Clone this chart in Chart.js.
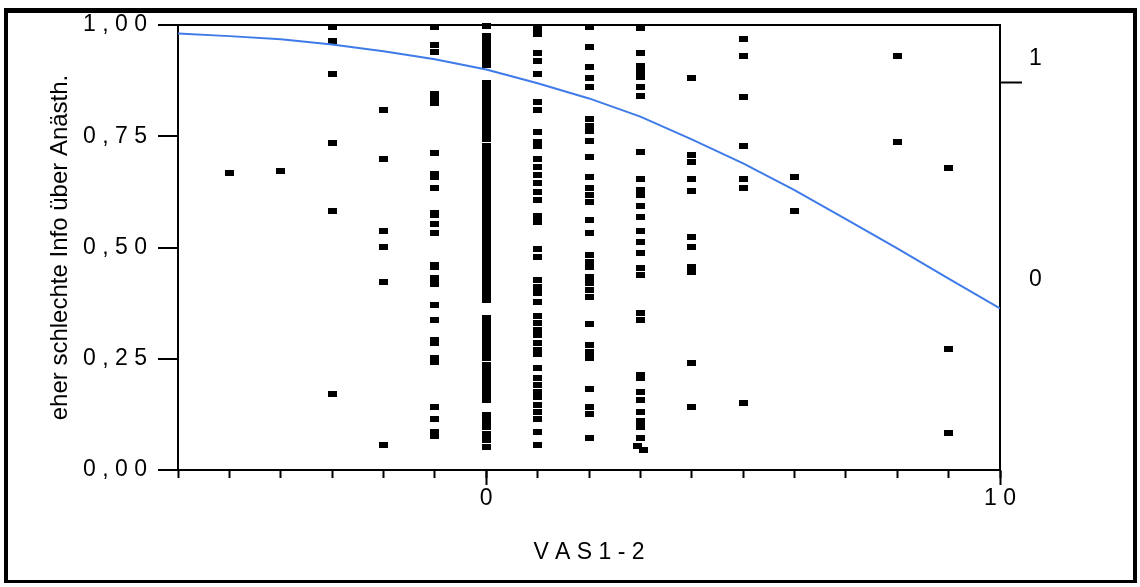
<!DOCTYPE html>
<html>
<head>
<meta charset="utf-8">
<script src="https://cdn.jsdelivr.net/npm/chart.js@4.4.1/dist/chart.umd.min.js"></script>
<style>
  html, body { margin: 0; padding: 0; background: #fff; }
  #wrap { position: relative; width: 1140px; height: 587px; }
</style>
</head>
<body>
<div id="wrap"><canvas id="vasChart" width="1140" height="587"></canvas></div>
<script>
// VAS1-2 vs. "eher schlechte Info über Anästh." (logistic fit)

const xTitle = 'V A S 1 - 2';
const yTitle = 'eher schlechte Info über Anästh.';

const yTickValues = [0, 0.25, 0.5, 0.75, 1];
const yTickLabels = ['0 , 0 0', '0 , 2 5', '0 , 5 0', '0 , 7 5', '1 , 0 0'];

const xMajorTicks = [0, 10];
const xMajorLabels = ['0', '1 0'];
const xMinorTicks = [-6, -5, -4, -3, -2, -1, 0, 1, 2, 3, 4, 5, 6, 7, 8, 9, 10];

const levelTickValues = [0.427, 0.870, 0.925];
const levelTickLabels = ['0', '', '1'];
const levelTickMarks = [false, true, false];

// fitted curve, read at each VAS step
const curveX = [-6, -5, -4, -3, -2, -1, 0, 1, 2, 3, 4, 5, 6, 7, 8, 9, 10];
const curveY = [0.981, 0.975, 0.968, 0.956, 0.941, 0.923, 0.900, 0.869, 0.835, 0.794, 0.743, 0.689, 0.629, 0.564, 0.498, 0.430, 0.363];

// observations per VAS value
const colM5 = [0.668];
const colM4 = [0.673];
const colM3 = [0.996, 0.965, 0.890, 0.734, 0.583, 0.171];
const colM2 = [0.809, 0.698, 0.538, 0.502, 0.422, 0.056];
const colM1 = [0.996, 0.956, 0.940, 0.845, 0.834, 0.824, 0.713, 0.665, 0.659, 0.633, 0.578, 0.573,
  0.553, 0.533, 0.461, 0.457, 0.432, 0.417, 0.371, 0.337, 0.292, 0.286, 0.251, 0.243, 0.141, 0.115, 0.086, 0.076];
const col0 = [0.998, 0.975, 0.963, 0.950, 0.937, 0.923, 0.910,
  0.870, 0.858, 0.846, 0.833, 0.820, 0.807, 0.795, 0.781, 0.768, 0.755, 0.743, 0.729, 0.716, 0.704,
  0.690, 0.677, 0.665, 0.652, 0.639, 0.626, 0.614, 0.600, 0.588, 0.575, 0.562, 0.549, 0.537, 0.524,
  0.511, 0.498, 0.485, 0.472, 0.459, 0.447, 0.433, 0.420, 0.407, 0.394, 0.381,
  0.342, 0.329, 0.316, 0.303, 0.290, 0.277, 0.264, 0.251, 0.237, 0.224, 0.211, 0.198, 0.184, 0.171, 0.157,
  0.124, 0.110, 0.096, 0.082, 0.067, 0.052];
const col1 = [0.993, 0.980, 0.936, 0.918, 0.891, 0.826, 0.809, 0.760, 0.738, 0.727, 0.700, 0.682,
  0.663, 0.644, 0.625, 0.607, 0.571, 0.557, 0.496, 0.479, 0.427, 0.412, 0.397, 0.378, 0.345, 0.330,
  0.315, 0.303, 0.286, 0.270, 0.260, 0.229, 0.206, 0.191, 0.176, 0.163, 0.145, 0.131, 0.115, 0.086, 0.056];
const col2 = [0.996, 0.951, 0.906, 0.880, 0.860, 0.788, 0.773, 0.762, 0.740, 0.704, 0.659, 0.633,
  0.618, 0.603, 0.562, 0.532, 0.483, 0.468, 0.457, 0.434, 0.420, 0.404, 0.389, 0.328, 0.281, 0.266,
  0.251, 0.181, 0.141, 0.126, 0.071];
const col3 = [0.993, 0.936, 0.908, 0.895, 0.884, 0.861, 0.840, 0.714, 0.653, 0.629, 0.618, 0.594,
  0.568, 0.538, 0.513, 0.488, 0.453, 0.438, 0.352, 0.337, 0.213, 0.206, 0.176, 0.157, 0.131, 0.109,
  0.097, 0.071];
const col3Left = [0.053];   // overlapping pair at the bottom of VAS 3
const col3Right = [0.045];
const col4 = [0.880, 0.708, 0.693, 0.653, 0.628, 0.523, 0.502, 0.457, 0.446, 0.241, 0.141];
const col5 = [0.968, 0.930, 0.839, 0.728, 0.653, 0.633, 0.150];
const col6 = [0.659, 0.583];
const col8 = [0.930, 0.738];
const col9 = [0.678, 0.271, 0.084];

const columns = [
  [-5, colM5], [-4, colM4], [-3, colM3], [-2, colM2], [-1, colM1], [0, col0], [1, col1],
  [2, col2], [3, col3], [2.94, col3Left], [3.06, col3Right], [4, col4], [5, col5],
  [6, col6], [8, col8], [9, col9]
];

const points = [];
columns.forEach(([vas, vals]) => {
  vals.forEach(v => points.push({ x: vas, y: v }));
});

const marker = document.createElement('canvas');
marker.width = 9;
marker.height = 6;
const mctx = marker.getContext('2d');
mctx.fillStyle = '#000';
mctx.fillRect(0, 0, 9, 6);

const fontFamily = "'Liberation Sans', Arial, sans-serif";

const framePlugin = {
  id: 'frame',
  afterDraw(chart) {
    const c = chart.ctx;
    c.save();
    c.fillStyle = '#000';
    c.fillRect(4, 8, 1133, 5);
    c.fillRect(4, 8, 4, 575);
    c.fillRect(1133, 8, 4, 575);
    c.fillRect(4, 580, 1133, 3);
    c.restore();
  }
};

const ctx = document.getElementById('vasChart').getContext('2d');

new Chart(ctx, {
  type: 'scatter',
  data: {
    datasets: [
      {
        label: 'Fit',
        data: curveX.map((x, i) => ({ x, y: curveY[i] })),
        showLine: true,
        borderColor: '#3f7be8',
        borderWidth: 2,
        pointRadius: 0,
        tension: 0,
        fill: false,
        xAxisID: 'x',
        yAxisID: 'y'
      },
      {
        label: 'Daten',
        data: points,
        pointStyle: marker,
        pointRadius: 5,
        clip: false,
        xAxisID: 'x',
        yAxisID: 'y'
      }
    ]
  },
  options: {
    responsive: false,
    animation: false,
    events: [],
    layout: { padding: { top: 25, left: 0, right: 0, bottom: 0 } },
    font: { family: fontFamily },
    plugins: {
      legend: { display: false },
      tooltip: { enabled: false }
    },
    scales: {
      x: {
        type: 'linear',
        position: 'bottom',
        min: -6,
        max: 10,
        weight: 1,
        afterBuildTicks: s => { s.ticks = xMajorTicks.map(v => ({ value: v })); },
        afterFit: s => { s.height = 117; },
        grid: { drawOnChartArea: false, tickLength: 15, tickWidth: 2, tickColor: '#000' },
        border: { display: true, color: '#000', width: 2 },
        ticks: {
          color: '#000',
          font: { family: fontFamily, size: 23 },
          padding: 0,
          maxRotation: 0,
          autoSkip: false,
          callback: (v, i) => xMajorLabels[i]
        },
        title: {
          display: true,
          text: xTitle,
          color: '#000',
          font: { family: fontFamily, size: 23 },
          padding: { top: 0, bottom: 21 }
        }
      },
      xMinor: {
        type: 'linear',
        axis: 'x',
        position: 'bottom',
        min: -6,
        max: 10,
        weight: 0,
        afterBuildTicks: s => { s.ticks = xMinorTicks.map(v => ({ value: v })); },
        afterFit: s => { s.height = 0; },
        grid: { drawOnChartArea: false, tickLength: 8, tickWidth: 2, tickColor: '#000' },
        border: { display: false },
        ticks: { display: false }
      },
      y: {
        type: 'linear',
        position: 'left',
        min: 0,
        max: 1,
        afterBuildTicks: s => { s.ticks = yTickValues.map(v => ({ value: v })); },
        afterFit: s => { s.width = 178; },
        grid: {
          color: c => (c.tick && c.tick.value === 1 ? '#000' : 'rgba(0,0,0,0)'),
          lineWidth: 2,
          tickLength: 20,
          tickWidth: 2,
          tickColor: '#000'
        },
        border: { color: '#000', width: 2 },
        ticks: {
          color: '#000',
          font: { family: fontFamily, size: 23 },
          padding: 11,
          autoSkip: false,
          callback: (v, i) => yTickLabels[i]
        },
        title: {
          display: true,
          text: yTitle,
          color: '#000',
          font: { family: fontFamily, size: 24 },
          padding: { top: 46, bottom: 0 }
        }
      },
      yLevel: {
        type: 'linear',
        axis: 'y',
        position: 'right',
        min: 0,
        max: 1,
        afterBuildTicks: s => { s.ticks = levelTickValues.map(v => ({ value: v })); },
        afterFit: s => { s.width = 140; },
        grid: {
          drawOnChartArea: false,
          tickLength: 22,
          tickWidth: 2,
          tickColor: c => (levelTickMarks[c.index] ? '#000' : 'rgba(0,0,0,0)')
        },
        border: { color: '#000', width: 2 },
        ticks: {
          color: '#000',
          font: { family: fontFamily, size: 23 },
          padding: 7,
          autoSkip: false,
          callback: (v, i) => levelTickLabels[i]
        }
      }
    }
  },
  plugins: [framePlugin]
});
</script>
</body>
</html>
